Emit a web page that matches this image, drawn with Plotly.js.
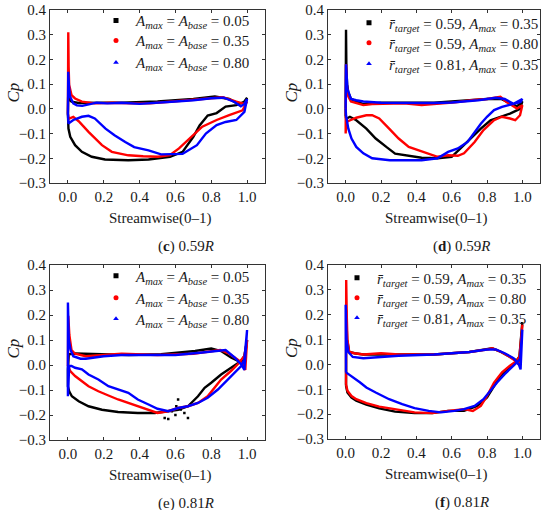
<!DOCTYPE html>
<html>
<head>
<meta charset="utf-8">
<script src="https://cdn.plot.ly/plotly-3.0.1.min.js"></script>
<style>html,body{margin:0;padding:0;background:#fff}#chart{width:550px;height:510px}</style>
</head>
<body>
<div id="chart"></div>
<script>
// ---------- tick labels ----------
const xTicks = [0.0, 0.2, 0.4, 0.6, 0.8, 1.0];
const yTicks = [-0.3, -0.2, -0.1, 0.0, 0.1, 0.2, 0.3, 0.4];

// ---------- legend labels ----------
const labelsA = [
  "<i>A</i><sub><i>max</i></sub> = <i>A</i><sub><i>base</i></sub> = 0.05",
  "<i>A</i><sub><i>max</i></sub> = <i>A</i><sub><i>base</i></sub> = 0.35",
  "<i>A</i><sub><i>max</i></sub> = <i>A</i><sub><i>base</i></sub> = 0.80"
];
const labelsR = [
  "<i>r\u0304</i><sub><i>target</i></sub> = 0.59, <i>A</i><sub><i>max</i></sub> = 0.35",
  "<i>r\u0304</i><sub><i>target</i></sub> = 0.59, <i>A</i><sub><i>max</i></sub> = 0.80",
  "<i>r\u0304</i><sub><i>target</i></sub> = 0.81, <i>A</i><sub><i>max</i></sub> = 0.35"
];
const captions = ["(<b>c</b>) 0.59<i>R</i>", "(<b>d</b>) 0.59<i>R</i>", "(e) 0.81<i>R</i>", "(<b>f</b>) 0.81<i>R</i>"];

// ---------- panel (c) ----------
const c_k_x = [0.0,0.002,0.01,0.02,0.06,0.1,0.2,0.3,0.4,0.5,0.6,0.7,0.82,0.9,0.95,0.98,1.0,0.99,0.94,0.88,0.83,0.78,0.735,0.70,0.64,0.57,0.45,0.337,0.207,0.133,0.078,0.04,0.013,0.003,0.0];
const c_k_y = [-0.02,0.075,0.036,0.029,0.024,0.025,0.025,0.025,0.026,0.03,0.035,0.04,0.05,0.04,0.02,0.025,0.045,0.03,0.015,0.009,-0.017,-0.027,-0.067,-0.113,-0.174,-0.194,-0.205,-0.208,-0.205,-0.194,-0.174,-0.147,-0.113,-0.08,-0.02];
const c_r_x = [0.0,0.002,0.004,0.007,0.02,0.04,0.078,0.15,0.25,0.35,0.457,0.55,0.64,0.75,0.865,0.94,0.985,1.0,0.975,0.90,0.83,0.75,0.68,0.62,0.57,0.503,0.42,0.337,0.245,0.19,0.115,0.06,0.03,0.004,0.0];
const c_r_y = [-0.02,0.31,0.17,0.096,0.056,0.042,0.029,0.022,0.025,0.022,0.022,0.028,0.033,0.04,0.047,0.029,0.02,0.03,-0.006,-0.025,-0.045,-0.072,-0.12,-0.16,-0.187,-0.194,-0.192,-0.188,-0.174,-0.147,-0.093,-0.05,-0.032,-0.04,-0.02];
const c_b_x = [0.0,0.002,0.006,0.012,0.03,0.05,0.08,0.12,0.16,0.22,0.3,0.4,0.5,0.6,0.7,0.8,0.87,0.93,0.965,0.985,1.0,0.985,0.94,0.88,0.83,0.77,0.72,0.64,0.58,0.52,0.45,0.37,0.32,0.26,0.21,0.15,0.115,0.078,0.03,0.003,0.0];
const c_b_y = [-0.02,0.15,0.09,0.05,0.022,0.014,0.012,0.018,0.025,0.022,0.025,0.02,0.024,0.03,0.035,0.043,0.045,0.028,0.01,0.02,0.04,-0.012,-0.045,-0.053,-0.066,-0.10,-0.147,-0.182,-0.183,-0.184,-0.168,-0.155,-0.134,-0.107,-0.08,-0.039,-0.028,-0.032,-0.045,-0.059,-0.02];

// ---------- panel (d) ----------
const d_k_x = [0.0,0.002,0.004,0.008,0.015,0.03,0.06,0.098,0.2,0.3,0.4,0.5,0.6,0.7,0.8,0.88,0.93,0.97,1.0,0.987,0.93,0.876,0.82,0.765,0.71,0.65,0.6,0.52,0.43,0.36,0.28,0.23,0.17,0.117,0.06,0.024,0.003,0.0];
const d_k_y = [-0.03,0.32,0.17,0.1,0.066,0.04,0.03,0.019,0.025,0.025,0.022,0.025,0.03,0.035,0.04,0.04,0.025,0.01,0.03,0.0,-0.019,-0.032,-0.046,-0.08,-0.12,-0.16,-0.194,-0.2,-0.198,-0.19,-0.181,-0.154,-0.12,-0.08,-0.046,-0.032,-0.04,-0.03];
const d_r_x = [0.0,0.002,0.006,0.015,0.03,0.05,0.1,0.15,0.246,0.33,0.43,0.52,0.62,0.71,0.8,0.876,0.91,0.97,1.0,0.987,0.96,0.93,0.885,0.84,0.78,0.73,0.67,0.635,0.58,0.52,0.47,0.41,0.357,0.3,0.246,0.19,0.15,0.117,0.06,0.024,0.003,0.0];
const d_r_y = [-0.1,0.18,0.1,0.05,0.03,0.025,0.015,0.019,0.022,0.022,0.015,0.019,0.026,0.035,0.04,0.049,0.028,0.001,0.015,-0.026,-0.046,-0.039,-0.032,-0.046,-0.086,-0.134,-0.18,-0.19,-0.188,-0.194,-0.183,-0.167,-0.154,-0.12,-0.08,-0.039,-0.026,-0.026,-0.036,-0.046,-0.053,-0.1];
const d_b_x = [0.0,0.002,0.01,0.03,0.06,0.1,0.2,0.3,0.4,0.5,0.6,0.75,0.85,0.9,0.95,1.0,0.99,0.93,0.885,0.84,0.8,0.765,0.73,0.69,0.635,0.58,0.52,0.43,0.25,0.15,0.1,0.06,0.033,0.015,0.002,0.0];
const d_b_y = [0.0,0.18,0.08,0.04,0.035,0.03,0.025,0.024,0.022,0.024,0.026,0.035,0.045,0.04,0.02,0.04,0.028,0.015,0.008,-0.005,-0.032,-0.06,-0.093,-0.134,-0.16,-0.174,-0.2,-0.208,-0.208,-0.2,-0.18,-0.154,-0.12,-0.08,-0.026,0.0];

// ---------- panel (e) ----------
const e_k_x = [0.0,0.002,0.005,0.04,0.15,0.34,0.52,0.71,0.8,0.855,0.91,0.967,0.985,1.0,0.985,0.967,0.91,0.855,0.8,0.763,0.726,0.67,0.615,0.54,0.485,0.39,0.28,0.19,0.115,0.06,0.022,0.007,0.0,0.0];
const e_k_y = [-0.017,0.023,0.043,0.046,0.043,0.04,0.043,0.056,0.066,0.056,0.03,0.01,0.016,0.1,0.036,0.016,-0.011,-0.038,-0.071,-0.091,-0.125,-0.165,-0.179,-0.185,-0.192,-0.192,-0.188,-0.179,-0.165,-0.145,-0.125,-0.105,-0.085,-0.017];
const e_ks_x = [0.54,0.56,0.58,0.605,0.615,0.65,0.67,0.6,0.63];
const e_ks_y = [-0.212,-0.216,-0.185,-0.165,-0.138,-0.192,-0.212,-0.2,-0.178];
const e_r_x = [0.0,0.002,0.008,0.02,0.04,0.1,0.2,0.3,0.5,0.7,0.8,0.85,0.9,0.95,0.98,0.99,1.0,0.985,0.948,0.91,0.855,0.82,0.78,0.726,0.67,0.615,0.56,0.5,0.43,0.355,0.28,0.226,0.17,0.115,0.078,0.04,0.013,0.0];
const e_r_y = [-0.004,0.197,0.12,0.06,0.045,0.035,0.04,0.045,0.04,0.045,0.055,0.06,0.045,0.02,0.0,-0.02,0.1,0.036,0.003,-0.024,-0.058,-0.091,-0.125,-0.152,-0.165,-0.172,-0.185,-0.192,-0.175,-0.158,-0.138,-0.122,-0.105,-0.085,-0.064,-0.044,-0.024,-0.004];
const e_b_x = [0.0,0.0,0.005,0.015,0.03,0.07,0.1,0.2,0.3,0.4,0.6,0.75,0.85,0.88,0.93,0.97,0.985,1.0,0.985,0.967,0.93,0.883,0.837,0.78,0.726,0.67,0.615,0.56,0.5,0.45,0.39,0.337,0.28,0.226,0.17,0.115,0.078,0.04,0.02,0.007,0.0];
const e_b_y = [-0.125,0.25,0.1,0.06,0.035,0.025,0.025,0.035,0.04,0.04,0.04,0.05,0.06,0.06,0.03,0.0,-0.02,0.14,0.023,-0.004,-0.031,-0.064,-0.098,-0.131,-0.152,-0.165,-0.172,-0.185,-0.175,-0.158,-0.138,-0.111,-0.098,-0.085,-0.058,-0.038,-0.017,-0.011,-0.004,-0.004,-0.125];

// ---------- panel (f) ----------
const f_k_x = [0.002,0.003,0.008,0.02,0.05,0.1,0.3,0.5,0.7,0.8,0.83,0.88,0.93,0.97,0.98,1.0,0.987,0.96,0.913,0.876,0.84,0.8,0.745,0.67,0.58,0.49,0.39,0.28,0.19,0.117,0.06,0.033,0.01,0.002];
const f_k_y = [-0.086,0.22,0.1,0.05,0.045,0.04,0.04,0.04,0.05,0.06,0.065,0.05,0.03,0.015,0.0,0.17,0.035,0.008,-0.019,-0.046,-0.086,-0.133,-0.167,-0.187,-0.187,-0.196,-0.196,-0.19,-0.177,-0.162,-0.146,-0.133,-0.113,-0.086];
const f_r_x = [0.002,0.003,0.006,0.01,0.02,0.05,0.1,0.2,0.3,0.5,0.7,0.8,0.83,0.88,0.93,0.97,0.98,1.0,0.987,0.97,0.93,0.885,0.84,0.8,0.765,0.72,0.67,0.58,0.49,0.39,0.28,0.19,0.117,0.06,0.033,0.01,0.002];
const f_r_y = [-0.08,0.34,0.2,0.1,0.05,0.045,0.04,0.045,0.04,0.04,0.05,0.06,0.065,0.05,0.03,0.01,0.0,0.16,0.035,0.015,-0.005,-0.032,-0.073,-0.127,-0.167,-0.187,-0.18,-0.187,-0.196,-0.193,-0.182,-0.17,-0.156,-0.14,-0.127,-0.106,-0.08];
const f_b_x = [0.002,0.0,0.005,0.015,0.04,0.1,0.2,0.3,0.5,0.7,0.8,0.85,0.9,0.95,0.98,0.99,1.0,0.987,0.95,0.9,0.857,0.82,0.78,0.73,0.67,0.615,0.54,0.47,0.39,0.32,0.246,0.17,0.117,0.08,0.043,0.015,0.002];
const f_b_y = [-0.032,0.24,0.1,0.05,0.03,0.025,0.03,0.035,0.04,0.05,0.06,0.06,0.045,0.025,0.0,-0.02,0.14,0.021,-0.005,-0.039,-0.073,-0.106,-0.14,-0.167,-0.18,-0.187,-0.193,-0.187,-0.176,-0.16,-0.14,-0.113,-0.093,-0.072,-0.052,-0.039,-0.032];

// ---------- styling ----------
const FONT = '"Liberation Serif", "DejaVu Serif", serif';
const TXT = "#1a1a1a";
const colors = ["#000000", "#ff0000", "#0000ff"];
const symbols = ["square", "circle", "triangle-up"];
const W = 550, H = 510;
const px = v => v / W;
const py = v => 1 - v / H;

const panels = [
  {series: [[c_k_x, c_k_y], [c_r_x, c_r_y], [c_b_x, c_b_y]], labels: labelsA, xd: [50, 265], yd: [183, 10], legX: 96, legY: [20.7, 40.7, 62.7]},
  {series: [[d_k_x, d_k_y], [d_r_x, d_r_y], [d_b_x, d_b_y]], labels: labelsR, xd: [328, 540], yd: [183, 10], legX: 349, legY: [23, 43, 64]},
  {series: [[e_k_x, e_k_y], [e_r_x, e_r_y], [e_b_x, e_b_y]], labels: labelsA, xd: [50, 265], yd: [440, 265], legX: 96, legY: [276, 298, 319]},
  {series: [[f_k_x, f_k_y], [f_r_x, f_r_y], [f_b_x, f_b_y]], labels: labelsR, xd: [328, 540], yd: [439, 265], legX: 337, legY: [278, 298, 318]}
];

const traces = [];
const layout = {
  width: W, height: H,
  margin: {l: 0, r: 0, t: 0, b: 0},
  paper_bgcolor: "#ffffff", plot_bgcolor: "#ffffff",
  font: {family: FONT, size: 15, color: TXT},
  showlegend: true,
  annotations: []
};

let legCount = 0;
panels.forEach((p, i) => {
  const n = i === 0 ? "" : String(i + 1);
  const xa = "x" + n, ya = "y" + n;
  p.series.forEach((s, j) => {
    traces.push({
      type: "scatter", mode: "lines", x: s[0], y: s[1],
      xaxis: xa, yaxis: ya, showlegend: false, hoverinfo: "skip",
      line: {color: colors[j], width: 2.4}
    });
    if (i === 2 && j === 0) {
      traces.push({
        type: "scatter", mode: "markers", x: e_ks_x, y: e_ks_y,
        xaxis: xa, yaxis: ya, showlegend: false, hoverinfo: "skip",
        marker: {color: colors[0], size: 2.5, symbol: "square"}
      });
    }
  });
  p.labels.forEach((lab, j) => {
    legCount += 1;
    const legName = legCount === 1 ? "legend" : "legend" + legCount;
    traces.push({
      type: "scatter", mode: "markers", x: [null], y: [null], name: lab,
      xaxis: xa, yaxis: ya, legend: legName, showlegend: true,
      marker: {color: colors[j], size: 5, symbol: symbols[j]}
    });
    layout[legName] = {
      x: px(p.legX), y: py(p.legY[j]), xanchor: "left", yanchor: "middle",
      bgcolor: "rgba(0,0,0,0)", borderwidth: 0,
      font: {family: FONT, size: 15, color: TXT},
      itemwidth: 30
    };
  });
  const axCommon = {
    showline: true, linecolor: "#333333", linewidth: 1, mirror: "ticks",
    ticks: "inside", ticklen: 3, tickcolor: "#333333", tickwidth: 1,
    showgrid: false, zeroline: false,
    tickfont: {family: FONT, size: 15, color: TXT}
  };
  layout["xaxis" + n] = Object.assign({}, axCommon, {
    domain: [px(p.xd[0]), px(p.xd[1])], anchor: ya,
    range: [-0.1, 1.1], tickvals: xTicks, tickformat: ".1f"
  });
  layout["yaxis" + n] = Object.assign({}, axCommon, {
    domain: [py(p.yd[0]), py(p.yd[1])], anchor: xa,
    range: [-0.3, 0.4], tickvals: yTicks, tickformat: ".1f"
  });
  const cx = (p.xd[0] + p.xd[1]) / 2;
  const cy = (p.yd[0] + p.yd[1]) / 2;
  layout.annotations.push({
    text: "Streamwise(0\u20131)", xref: "paper", yref: "paper",
    x: px(cx + 2), y: py(p.yd[0] + 35), xanchor: "center", yanchor: "middle",
    showarrow: false, font: {family: FONT, size: 15, color: TXT}
  });
  layout.annotations.push({
    text: "<i>Cp</i>", xref: "paper", yref: "paper", textangle: -90,
    x: px(p.xd[0] - 37), y: py(cy - 4), xanchor: "center", yanchor: "middle",
    showarrow: false, font: {family: FONT, size: 17, color: TXT}
  });
  layout.annotations.push({
    text: captions[i], xref: "paper", yref: "paper",
    x: px(cx + 28), y: py(p.yd[0] + 63), xanchor: "center", yanchor: "middle",
    showarrow: false, font: {family: FONT, size: 15, color: TXT}
  });
});

Plotly.newPlot("chart", traces, layout, {displayModeBar: false, staticPlot: true});
</script>
</body>
</html>
